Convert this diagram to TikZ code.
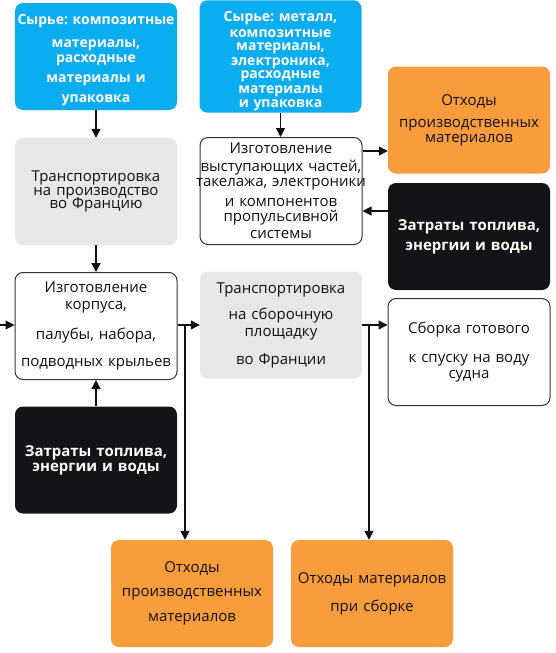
\documentclass[tikz,border=0pt]{standalone}
\usepackage{fontspec}
\setmainfont{Open Sans}
\usetikzlibrary{arrows.meta}
\frenchspacing
\definecolor{cblue}{HTML}{0AADEF}
\definecolor{cgray}{HTML}{E6E7E8}
\definecolor{corange}{HTML}{F89C3C}
\definecolor{cblack}{HTML}{131418}
\definecolor{ctext}{HTML}{111111}
\newcommand{\wideline}[1]{\makebox[158pt][c]{#1}}
\tikzset{
 box/.style={rounded corners=8pt, minimum width=162pt, minimum height=107pt, text width=158pt, inner sep=2pt, align=center, font=\fontsize{15}{16}\selectfont, text=ctext},
 bluebox/.style={box, fill=cblue, text=white, font=\fontsize{14}{16}\selectfont\bfseries},
 graybox/.style={box, fill=cgray},
 whitebox/.style={box, draw=black!80, line width=1pt, fill=white},
 orangebox/.style={box, fill=corange},
 blackbox/.style={box, fill=cblack, text=white, font=\fontsize{15}{16}\selectfont\bfseries},
 arr/.style={line width=1.2pt, draw=ctext, -{Triangle[length=9pt,width=9pt]}},
 ln/.style={line width=1.2pt, draw=ctext},
}
\begin{document}
\begin{tikzpicture}[x=1pt,y=-1pt]
\useasboundingbox (0,0) rectangle (555,653);
\node[bluebox] (b1) at (96,56.5) {\rule{0pt}{17pt}\wideline{Сырье: композитные}\\[7pt] материалы,\\[-1pt] расходные\\[4pt] материалы и\\[4pt] упаковка};
\node[bluebox] (b2) at (280.5,56.5) {\rule{0pt}{19pt}Сырье: металл,\\[0pt] композитные\\[-3pt] материалы,\\[-1pt] электроника,\\[-3pt] расходные\\[-1pt] материалы\\[-2pt] и упаковка};
\node[graybox] (g1) at (96,191.5) {Транспортировка\\[-2.5pt] на производство\\[-2.5pt] во Францию};
\node[whitebox] (wl) at (96,326) {Изготовление\\[1pt] корпуса,\\[14pt] палубы, набора,\\[11pt] подводных крыльев};
\node[whitebox] (wm) at (281,191) {Изготовление\\[2pt] \wideline{выступающих частей,}\\[-1pt] \wideline{такелажа, электроники}\\[4pt] и компонентов\\[-1pt] пропульсивной\\[1pt] системы};
\node[graybox] (g2) at (281,325) {Транспортировка\\[10pt] на сборочную\\[1pt] площадку\\[12pt] во Франции};
\node[orangebox] (o1) at (469,120) {Отходы\\[6pt] производственных\\[-1pt] материалов};
\node[blackbox] (k1) at (469,236.5) {Затраты топлива,\\[4pt] энергии и воды};
\node[whitebox] (wr) at (469,352) {Сборка готового\\[13pt] к спуску на воду\\ судна};
\node[blackbox] (k2) at (96,460) {Затраты топлива,\\[-1pt] энергии и воды};
\node[orangebox] (o2) at (192,593.5) {Отходы\\[8pt] производственных\\[9pt] материалов};
\node[orangebox] (o3) at (372,593.5) {\wideline{Отходы материалов}\\[12pt] при сборке};
\draw[arr] (b1) -- (g1);
\draw[arr] (b2.south) -- (b2.south |- wm.north);
\draw[arr] (g1) -- (wl);
\draw[arr] (k2) -- (wl);
\coordinate (lin) at (0,325);
\draw[arr] (lin) -- (lin -| wl.west);
\coordinate (j1) at (185,325);
\draw[ln] (wl.east |- j1) -- (j1);
\draw[arr] (j1) -- (j1 -| g2.west);
\draw[arr] (j1) -- (j1 |- o2.north);
\coordinate (j2) at (369,325);
\draw[ln] (g2.east |- j2) -- (j2);
\draw[arr] (j2) -- (j2 -| wr.west);
\draw[arr] (j2) -- (j2 |- o3.north);
\coordinate (a1) at (0,151);
\draw[arr] (wm.east |- a1) -- (o1.west |- a1);
\coordinate (a2) at (0,211);
\draw[arr] (k1.west |- a2) -- (wm.east |- a2);
\end{tikzpicture}
\end{document}
